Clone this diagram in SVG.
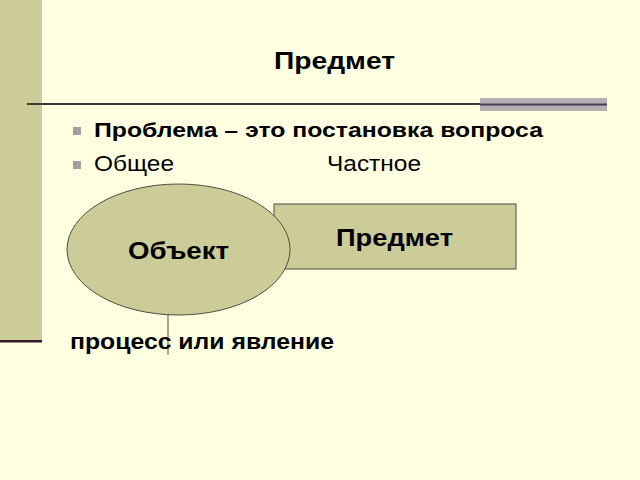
<svg xmlns="http://www.w3.org/2000/svg" width="640" height="480" viewBox="0 0 640 480">
<style>
text{font-family:"Liberation Sans",Arial,sans-serif;fill:#000}
.b{font-weight:bold}
.shape{fill:#CCCC99;stroke:#4d4d40;stroke-width:1}
.bullet{fill:#a0a0a0}
</style>
<rect width="640" height="480" fill="#FFFFE1"/>
<rect x="0" y="0" width="42" height="340" fill="#CCCC99"/>
<rect x="0" y="340" width="42" height="2.5" fill="#3a1a2a"/>
<line x1="27" y1="104" x2="607" y2="104" stroke="#3c3c3c" stroke-width="2"/>
<rect x="480" y="98" width="127" height="13" fill="#b4b0b4"/>
<line x1="480" y1="104.5" x2="607" y2="104.5" stroke="#4a3a5a" stroke-width="2"/>
<text x="274" y="68.5" class="b" font-size="24" textLength="121" lengthAdjust="spacingAndGlyphs">Предмет</text>
<rect class="bullet" x="73" y="127" width="8" height="8"/>
<rect class="bullet" x="73" y="161" width="8" height="8"/>
<text x="94" y="136.5" class="b" font-size="20" textLength="449" lengthAdjust="spacingAndGlyphs">Проблема – это постановка вопроса</text>
<text x="94" y="170.5" font-size="22" textLength="80" lengthAdjust="spacingAndGlyphs">Общее</text>
<text x="327" y="170.5" font-size="22" textLength="94" lengthAdjust="spacingAndGlyphs">Частное</text>
<g id="connectors">
<line x1="168" y1="314" x2="168" y2="355" stroke="#4d4d40" stroke-width="1"/>
</g>
<g id="predmet">
<rect class="shape" x="274" y="204" width="242" height="65"/>
<text x="336" y="245.5" class="b" font-size="24" textLength="117" lengthAdjust="spacingAndGlyphs">Предмет</text>
</g>
<g id="obekt">
<ellipse class="shape" cx="178.5" cy="249.5" rx="111.5" ry="65.5"/>
<text x="128" y="259" class="b" font-size="24.5" textLength="101" lengthAdjust="spacingAndGlyphs">Объект</text>
</g>
<text x="70" y="349" class="b" font-size="22.5" textLength="264" lengthAdjust="spacingAndGlyphs">процесс или явление</text>
</svg>
